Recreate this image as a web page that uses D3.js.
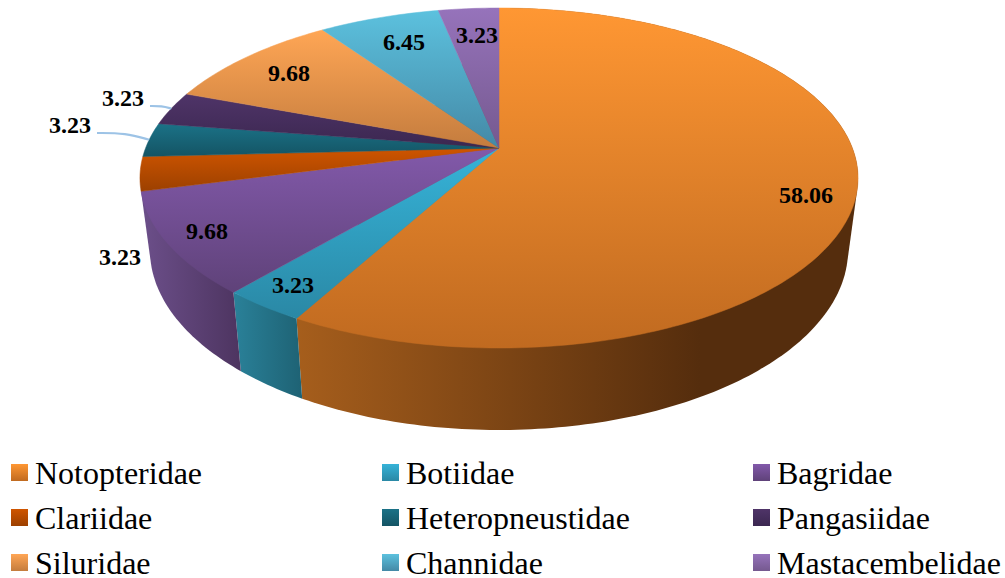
<!DOCTYPE html>
<html>
<head>
<meta charset="utf-8">
<script src="https://cdn.jsdelivr.net/npm/d3@7"></script>
<style>
  html, body { margin: 0; padding: 0; background: #fff; overflow: hidden; }
  svg { display: block; }
  text { font-family: "Liberation Serif", serif; fill: #000; }
</style>
</head>
<body>
<div id="chart"></div>
<script>
const families = ['Notopteridae', 'Botiidae', 'Bagridae', 'Clariidae', 'Heteropneustidae', 'Pangasiidae', 'Siluridae', 'Channidae', 'Mastacembelidae'];
const percents = [58.06, 3.23, 9.68, 3.23, 3.23, 3.23, 9.68, 6.45, 3.23];
const shownLabels = ['58.06', '3.23', '9.68', '3.23', '3.23', '3.23', '9.68', '6.45', '3.23'];

// office-like theme colours
const topLight = ['#ff9733', '#36b3d8', '#8259aa', '#cf5500', '#1b7287', '#4f3468', '#ffa655', '#5cc1de', '#9673bb'];
const topDark = ['#c06a20', '#2a88a5', '#5f4279', '#9c4000', '#145464', '#3b2750', '#c47c3e', '#4489a6', '#75598f'];
const sideLight = ['#a65e1c', '#2a8199', '#6c4f8a'];
const sideDark = ['#552d0d', '#1e6274', '#4d3460'];

// label anchors, [x, y of text centre]
const labelSpots = [[806, 195], [293, 285], [207, 231], [120, 257], [70, 125], [123, 98], [289, 73], [404, 42], [477, 35]];
const leaderSlices = [4, 5];
// only the first three walls face the viewer, the rest are behind the top face
const wallSlices = [0, 1, 2];

const width = 1005, height = 578;

const svg = d3.select('#chart').append('svg')
  .attr('width', width)
  .attr('height', height);
const defs = svg.append('defs');

// perspective projection of the pie disc to the picture plane
const centre = { x: 499, y: 148 };
const persp = 0.1765, scaleU = 353.4, scaleV = 164.7;
const topRim = (a) => {
  const u = Math.sin(a), v = -Math.cos(a), w = 1 - persp * v;
  return [centre.x + scaleU * u / w, centre.y + scaleV * v / w];
};
// the floor of the pie is the same ellipse, a bit narrower and lower
const floorX = d3.scaleLinear().domain([140, 858]).range([150, 848]);
const floorY = d3.scaleLinear().domain([8, 348]).range([70, 430]);
const floorRim = (a) => {
  const p = topRim(a);
  return [floorX(p[0]), floorY(p[1])];
};

const arcSteps = (d) => d3.range(0, 1.0001, 1 / Math.max(4, Math.ceil((d.endAngle - d.startAngle) * 60)))
  .map(t => d.startAngle + t * (d.endAngle - d.startAngle));

const slices = d3.pie().sort(null).value(d => d)(percents);
const line = d3.line();

const addGradient = (id, c0, c1, attrs) => {
  const g = defs.append('linearGradient').attr('id', id);
  Object.entries(attrs).forEach(([k, v]) => g.attr(k, v));
  g.append('stop').attr('offset', '0%').attr('stop-color', c0);
  g.append('stop').attr('offset', '100%').attr('stop-color', c1);
};

// side walls first, top faces go over them
wallSlices.forEach(i => {
  const angles = arcSteps(slices[i]);
  const points = angles.map(topRim).concat(angles.map(floorRim));
  const xs = points.map(p => p[0]);
  addGradient('side' + i, sideLight[i], sideDark[i], {
    gradientUnits: 'userSpaceOnUse',
    x1: i === 0 ? 296 : d3.min(xs), y1: 0,
    x2: i === 0 ? 700 : d3.max(xs), y2: 0
  });
  // hull keeps the straight silhouette between the two rims
  svg.append('path')
    .attr('d', line(d3.polygonHull(points)) + 'Z')
    .attr('fill', `url(#side${i})`);
});

slices.forEach((d, i) => {
  addGradient('top' + i, topLight[i], topDark[i], { x1: 0, y1: 0, x2: 0, y2: 1 });
  const rim = arcSteps(d).map(topRim);
  svg.append('path')
    .attr('d', line([[centre.x, centre.y]].concat(rim)) + 'Z')
    .attr('fill', `url(#top${i})`)
    .attr('stroke', `url(#top${i})`)
    .attr('stroke-width', 0.5);
});

// leader lines to the two outside labels
leaderSlices.forEach(i => {
  const d = slices[i];
  const end = topRim((d.startAngle + d.endAngle) / 2);
  const [lx, ly] = labelSpots[i];
  const curve = d3.line().curve(d3.curveBasis);
  const start = [lx + 27, ly + 8];
  const bend = [end[0] - (end[0] - start[0]) * 0.45, start[1]];
  svg.append('path')
    .attr('d', curve([start, bend, end]))
    .attr('fill', 'none')
    .attr('stroke', '#9dc3e6')
    .attr('stroke-width', 2.2);
});

svg.selectAll('text.value')
  .data(shownLabels)
  .enter()
  .append('text')
  .attr('class', 'value')
  .attr('x', (d, i) => labelSpots[i][0])
  .attr('y', (d, i) => labelSpots[i][1] + 8)
  .attr('text-anchor', 'middle')
  .style('font-size', '24px')
  .style('font-weight', 'bold')
  .text(d => d);

// legend, three columns by three rows
const legendX = d3.scaleLinear().domain([0, 2]).range([11, 753]);
const legendY = d3.scaleLinear().domain([0, 2]).range([464, 554]);
const swatch = 17;

families.forEach((name, i) => {
  const col = i % 3, row = Math.floor(i / 3);
  svg.append('rect')
    .attr('x', legendX(col))
    .attr('y', legendY(row))
    .attr('width', swatch)
    .attr('height', swatch)
    .attr('fill', `url(#top${i})`);
  svg.append('text')
    .attr('x', legendX(col) + 24)
    .attr('y', legendY(row) + 20)
    .style('font-size', '32px')
    .text(name);
});
</script>
</body>
</html>
